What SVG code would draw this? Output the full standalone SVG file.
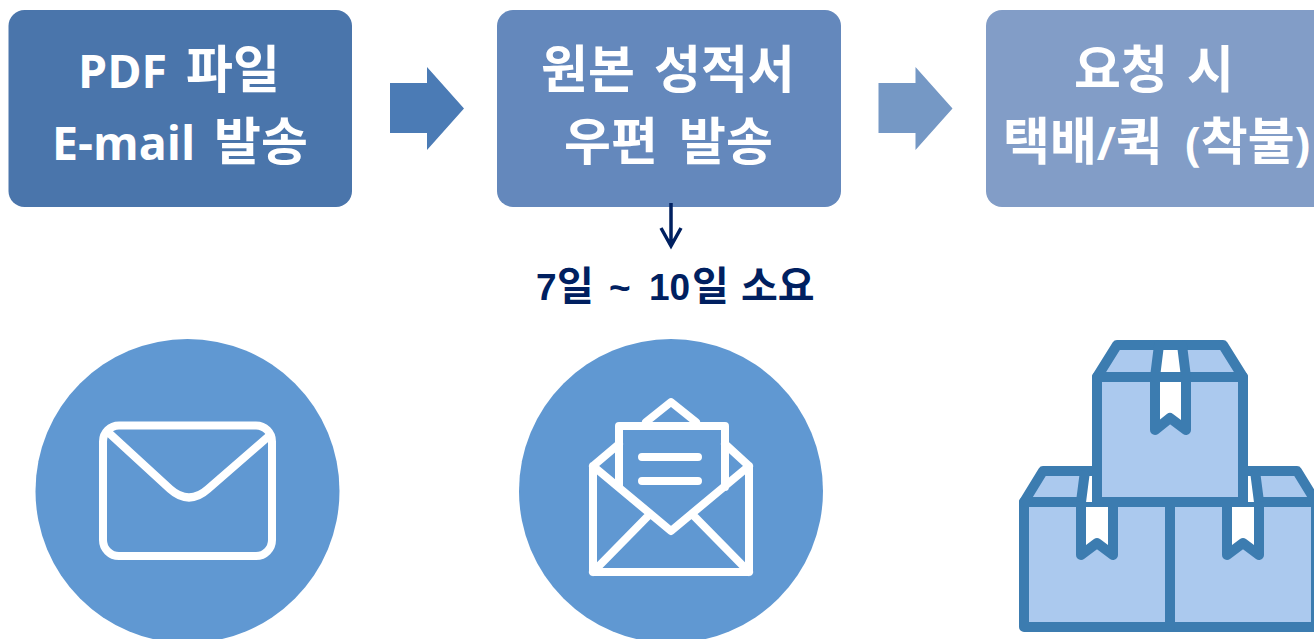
<svg xmlns="http://www.w3.org/2000/svg" width="1314" height="639" viewBox="0 0 1314 639">
<style>
.t{font-family:"Open Sans","Noto Sans CJK KR",sans-serif;font-weight:700;font-size:46.500px;fill:#fff}
.k{font-family:"Noto Sans CJK KR",sans-serif;font-size:51px}
.n{font-family:"Liberation Sans","Noto Sans CJK KR",sans-serif;font-weight:700;font-size:37px;fill:#002060}
.nk{font-family:"Noto Sans CJK KR",sans-serif;font-size:40px}
.w{fill:none;stroke:#fff;stroke-width:8;stroke-linejoin:round;stroke-linecap:round}
.b{fill:#abc9ee;stroke:#3c7cb0;stroke-width:10;stroke-linejoin:round;stroke-linecap:round}
.r{fill:#fff;stroke:#3c7cb0;stroke-width:10;stroke-linejoin:round;stroke-linecap:round}
</style>
<rect width="1314" height="639" fill="#fff"/>
<g id="box-pdf"><rect x="8.500" y="10" width="343.500" height="197" rx="16" fill="#4a75ab"/>
<text class="t" y="88"><tspan x="78">PDF </tspan><tspan class="k" x="186">파일</tspan></text>
<text class="t" y="160"><tspan x="52">E-mail </tspan><tspan class="k" x="214">발송</tspan></text></g>
<g id="box-post"><rect x="497" y="10" width="344" height="197" rx="16" fill="#6488bc"/>
<text class="t" y="88"><tspan class="k" x="541">원본 </tspan><tspan class="k" x="654">성적서</tspan></text>
<text class="t" y="160"><tspan class="k" x="564">우편 </tspan><tspan class="k" x="679">발송</tspan></text></g>
<g id="box-courier"><rect x="986" y="10" width="350" height="197" rx="16" fill="#829dc7"/>
<text class="t" y="88"><tspan class="k" x="1074">요청 </tspan><tspan class="k" x="1187">시</tspan></text>
<text class="t" y="160"><tspan class="k" x="1003">택배</tspan><tspan>/</tspan><tspan class="k">퀵 </tspan><tspan x="1185">(</tspan><tspan class="k">착불</tspan><tspan>)</tspan></text></g>
<g id="connectors">
<polygon points="390,83 427,83 427,67 464,108.500 427,150 427,133 390,133" fill="#4b7bb5"/>
<polygon points="878.500,83 915.500,83 915.500,67 952.500,108.500 915.500,150 915.500,133 878.500,133" fill="#7598c5"/>
<path d="M671 203V245M661 228L671 246L681 228" fill="none" stroke="#002060" stroke-width="3.500"/>
</g>
<g id="label-days"><text class="n" y="300"><tspan x="536">7</tspan><tspan class="nk" x="557">일 </tspan><tspan x="609">~ </tspan><tspan x="649">10</tspan><tspan class="nk" x="692">일 </tspan><tspan class="nk" x="741">소요</tspan></text></g>
<g id="icon-email">
<circle cx="187.500" cy="491" r="152" fill="#6098d2"/>
<rect class="w" x="103" y="425.500" width="169" height="130.500" rx="16"/>
<path class="w" d="M109 433L170 489Q189 506 208 489L269 436"/>
</g>
<g id="icon-letter">
<circle cx="671" cy="491" r="152" fill="#6098d2"/>
<path class="w" d="M593 466V572H749V466M593 466L671 531L749 466M593 572L650 514M749 572L692 514M593 466L619 444M749 466L725 444M619 487V426H725V487"/>
<path class="w" d="M646 422L671 402L696 422M642 457H698M642 481H698"/>
</g>
<g id="icon-boxes">
<path class="b" d="M1024 502L1043 471H1297L1316 502V627H1024Z"/>
<path class="b" d="M1024 502H1316M1170 502V627"/>
<path class="r" d="M1081 502V555L1097 543L1113 555V502Z"/>
<path class="r" d="M1227 502V555L1243 543L1259 555V502Z"/>
<path fill="#fff" d="M1086 476H1097V502H1082ZM1243 476H1254L1258 502H1243Z"/>
<path fill="none" stroke="#3c7cb0" stroke-width="10" d="M1081 502L1085 471M1259 502L1255 471"/>
<path class="b" d="M1097 377L1117 345H1223L1243 377V502H1097Z"/>
<path class="b" d="M1097 377H1243"/>
<path class="r" d="M1155 377V430L1170 418L1186 430V377Z"/>
<path class="r" d="M1155 377L1159 345H1182L1186 377Z"/>
</g>
</svg>
